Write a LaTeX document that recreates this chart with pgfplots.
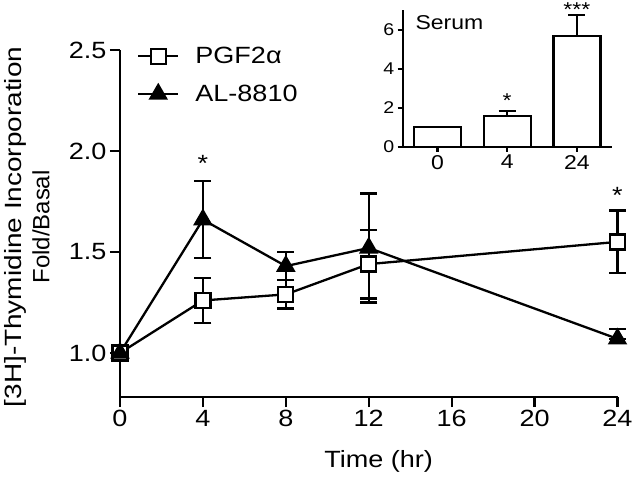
\documentclass[border=0pt]{standalone}
\usepackage{fontspec}
\setmainfont{Liberation Sans}[FakeStretch=1.15]
\newfontfamily\lineA{Liberation Sans}[FakeStretch=1.19]
\newfontfamily\lineB{Liberation Sans}[FakeStretch=1.02]
\usepackage{pgfplots}
\pgfplotsset{compat=1.18}
\newcommand{\fm}{\fontsize{23.5}{28}\selectfont}
\newcommand{\fs}{\fontsize{20}{24}\selectfont}
\begin{document}
\begin{tikzpicture}
\begin{axis}[
 at={(0pt,0pt)}, anchor=south west, scale only axis, width=497.5pt, height=347pt,
 xmin=0, xmax=24, ymin=0.782, ymax=2.5, clip=false,
 axis x line*=bottom, axis y line*=left,
 axis line style={line width=2.3pt, -},
 xtick={0,4,...,24}, ytick={1,1.5,2,2.5},
 tick align=outside, major tick length=10pt,
 every tick/.style={black, line width=2.3pt},
 tick label style={font=\fm},
 /pgf/number format/assume math mode=true,
 yticklabel style={/pgf/number format/fixed, /pgf/number format/fixed zerofill, /pgf/number format/precision=1},
 xlabel={Time (hr)},
 ylabel={{\lineA [3H]-Thymidine Incorporation}\\{\lineB Fold/Basal}},
 xlabel style={font=\fm, at={(axis description cs:0.52,-0.185)}, anchor=center},
 ylabel style={font=\fm, at={(axis description cs:-0.187,0.49)}, anchor=center, align=center},
 legend style={draw=none, fill=none, at={(axis description cs:0.034,1.0144)}, anchor=north west, font=\fm, row sep=16pt, inner sep=0pt, legend cell align=left},
 /tikz/every odd column/.append style={column sep=14pt},
 legend image code/.code={\draw[mark repeat=2,mark phase=2,#1] plot coordinates {(0pt,0pt) (20pt,0pt) (40pt,0pt)};},
]
% error bars (behind markers)
\addplot[only marks, mark=none, forget plot, error bars/.cd, y dir=both, y explicit,
  error bar style={line width=2.3pt, black}, error mark options={rotate=90, mark size=8.5pt, line width=2.3pt, black}]
  coordinates {(4,1.26) +- (0,0.11) (8,1.29) +- (0,0.07) (12,1.44) +- (0,0.17) (24,1.55) +- (0,0.155)};
\addplot[only marks, mark=none, forget plot, error bars/.cd, y dir=both, y explicit,
  error bar style={line width=2.3pt, black}, error mark options={rotate=90, mark size=8.5pt, line width=2.3pt, black}]
  coordinates {(4,1.66) +- (0,0.19) (8,1.43) +- (0,0.07) (12,1.52) +- (0,0.27) (24,1.07) += (0,0.05) -= (0,0)};
% series
\addplot[black, line width=2.3pt, mark=square*, mark size=7.5pt, mark options={fill=white, solid, line width=2.3pt}]
  coordinates {(0,1.0) (4,1.26) (8,1.29) (12,1.44) (24,1.55)};
\addlegendentry{PGF2α}
\addplot[black, line width=2.3pt, mark=triangle*, mark size=9pt, mark options={fill=black, solid}]
  coordinates {(0,1.0) (4,1.66) (8,1.43) (12,1.52) (24,1.07)};
\addlegendentry{AL-8810}
\node[font=\fm] at (axis cs:4,1.94) {*};
\node[font=\fm] at (axis cs:24,1.78) {*};
\end{axis}
\begin{axis}[
 at={(282.7pt,250.3pt)}, anchor=south west, scale only axis, width=209pt, height=136.5pt,
 xmin=-0.5, xmax=2.5, ymin=0, ymax=7, clip=false,
 axis x line*=bottom, axis y line*=left,
 axis line style={line width=2.3pt, -},
 xtick={0,1,2}, xticklabels={0,4,24}, ytick={0,2,4,6},
 tick align=outside, major tick length=5pt,
 every tick/.style={black, line width=2.3pt},
 /pgf/number format/assume math mode=true,
 xticklabel style={font=\fs},
 yticklabel style={font=\fontsize{17}{20}\selectfont},
]
\addplot[ybar, bar width=47pt, fill=white, draw=black, line width=2.3pt,
  error bars/.cd, y dir=plus, y explicit,
  error bar style={line width=2.3pt, black}, error mark options={rotate=90, mark size=8.5pt, line width=2.3pt, black}]
  coordinates {(0,1.0) (1,1.57) +- (0,0.26) (2,5.67) +- (0,1.07)};
\node[font=\fs] at (axis cs:0.17,6.35) {Serum};
\node[font=\fs] at (axis cs:1,2.35) {*};
\node[font=\fs] at (axis cs:2,7.05) {***};
\end{axis}
\pgfresetboundingbox
\path (-120pt,-82pt) rectangle (520pt,397pt);
\end{tikzpicture}
\end{document}
